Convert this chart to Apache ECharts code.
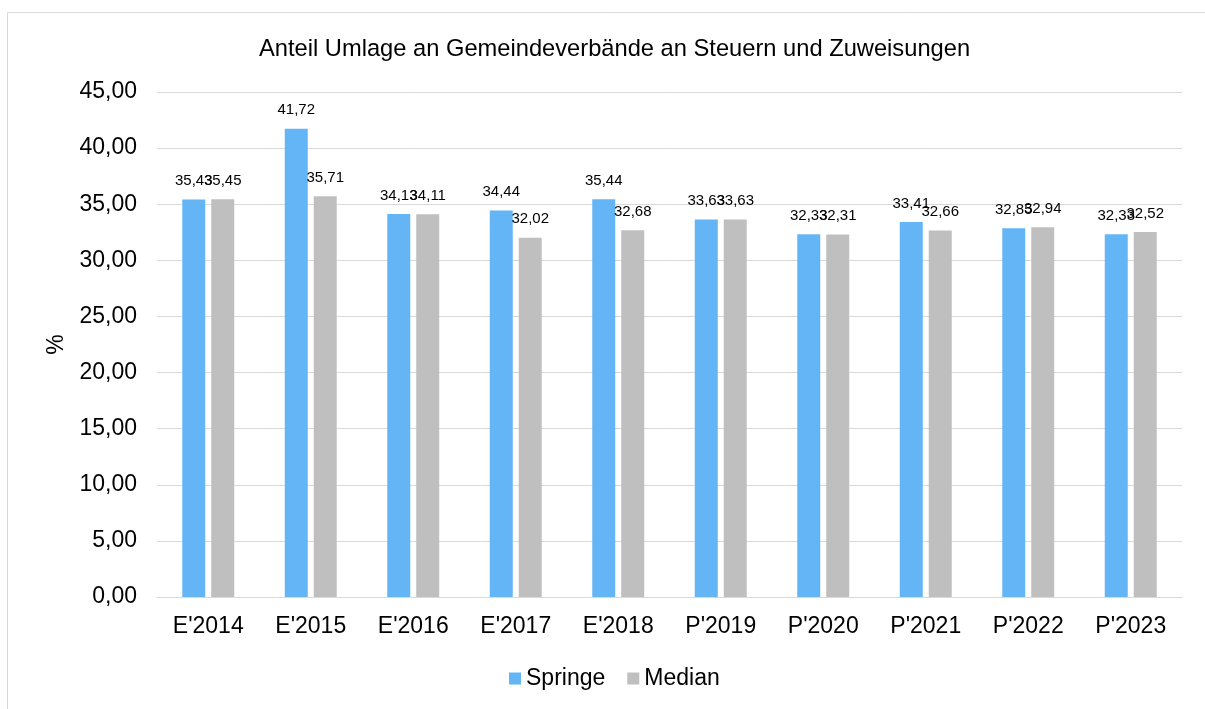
<!DOCTYPE html>
<html>
<head>
<meta charset="utf-8">
<style>
  html, body { margin: 0; padding: 0; background: #fff; }
  #chart { width: 1205px; height: 709px; }
</style>
<script src="https://cdn.jsdelivr.net/npm/echarts@6/dist/echarts.min.js"></script>
</head>
<body>
<div id="chart"></div>
<script>
// Kategorien und Werte
var categories = ["E'2014", "E'2015", "E'2016", "E'2017", "E'2018", "P'2019", "P'2020", "P'2021", "P'2022", "P'2023"];
var springe = [35.43, 41.72, 34.13, 34.44, 35.44, 33.63, 32.33, 33.41, 32.85, 32.33];
var median = [35.45, 35.71, 34.11, 32.02, 32.68, 33.63, 32.31, 32.66, 32.94, 32.52];

function fmt(v) {
  return v.toFixed(2).replace('.', ',');
}

var myChart = echarts.init(document.getElementById('chart'));
var font = 'Liberation Sans, Arial, sans-serif';

var option = {
  backgroundColor: '#fff',
  animation: false,
  title: {
    text: 'Anteil Umlage an Gemeindeverbände an Steuern und Zuweisungen',
    left: 254,
    top: 32,
    textStyle: { fontFamily: font, fontSize: 23.7, fontWeight: 'normal', color: '#000' }
  },
  graphic: [{
    type: 'rect',
    shape: { x: 7.5, y: 12.5, width: 1400, height: 900 },
    style: { fill: 'none', stroke: '#d9d9d9', lineWidth: 1 },
    silent: true
  }],
  legend: {
    top: 662,
    left: 504,
    itemWidth: 12,
    itemHeight: 12,
    itemGap: 22,
    icon: 'rect',
    textStyle: { fontFamily: font, fontSize: 23, color: '#000' },
    data: ['Springe', 'Median']
  },
  grid: { left: 157, right: 23, top: 92, bottom: 112 },
  xAxis: {
    type: 'category',
    data: categories,
    axisTick: { show: false },
    axisLine: { lineStyle: { color: '#d9d9d9', width: 1 } },
    axisLabel: { fontFamily: font, fontSize: 23, color: '#000', margin: 18 }
  },
  yAxis: {
    type: 'value',
    min: 0,
    max: 45,
    interval: 5,
    name: '%',
    nameLocation: 'middle',
    nameGap: 89,
    nameRotate: 90,
    nameTextStyle: { fontFamily: font, fontSize: 23, color: '#000' },
    axisLine: { show: false },
    axisTick: { show: false },
    splitLine: { lineStyle: { color: '#d9d9d9', width: 1 } },
    axisLabel: {
      fontFamily: font, fontSize: 23, color: '#000', margin: 20,
      formatter: function (v) { return fmt(v); }
    }
  },
  series: [
    {
      name: 'Springe',
      type: 'bar',
      data: springe,
      barWidth: 23,
      barGap: '26%',
      itemStyle: { color: '#64b5f6' },
      label: {
        show: true, position: 'top', distance: 11,
        fontFamily: font, fontSize: 15, color: '#000',
        formatter: function (p) { return fmt(p.value); }
      }
    },
    {
      name: 'Median',
      type: 'bar',
      data: median,
      barWidth: 23,
      itemStyle: { color: '#bfbfbf' },
      label: {
        show: true, position: 'top', distance: 11,
        fontFamily: font, fontSize: 15, color: '#000',
        formatter: function (p) { return fmt(p.value); }
      }
    }
  ]
};
myChart.setOption(option);
</script>
</body>
</html>
